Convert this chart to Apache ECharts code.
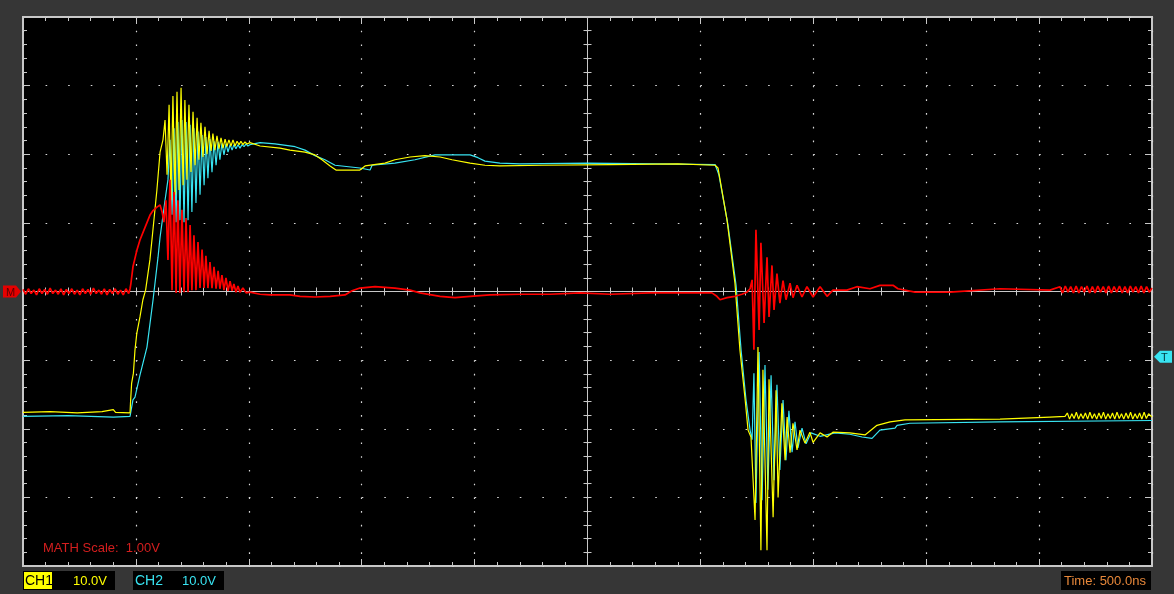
<!DOCTYPE html>
<html lang="en">
<head>
<meta charset="UTF-8">
<title>Scope capture</title>
<script src="https://cdn.jsdelivr.net/npm/echarts@6.0.0/dist/echarts.min.js"></script>
<style>
  html, body { margin: 0; padding: 0; background: #363636; }
  #main { width: 1174px; height: 594px; }
</style>
</head>
<body>
<div id="main"></div>
<script>
// time in ns relative to the trigger point (screen centre), CH values in volts, MATH in volts
var ch1 = [
  [-2500,-17.6],[-2380,-17.5],[-2260,-17.7],[-2150,-17.5],[-2100,-17.2],[-2090,-17.6],[-2026,-17.7],
  [-2024,-16.3],[-2019,-13.4],[-2011,-11.9],[-2004,-8.5],[-1996,-6.1],[-1982,-3.7],[-1969,-1.2],
  [-1957,0.2],[-1938,4.6],[-1929,7.5],[-1907,14.8],[-1893,20.3],[-1880,22.1],
  [-1871,25.0],[-1862,17.0],[-1853,27.2],[-1845,13.3],[-1836,28.5],[-1827,14.1],[-1818,29.1],
  [-1809,14.8],[-1800,29.7],[-1791,15.5],[-1783,27.9],[-1774,16.3],[-1765,27.2],[-1756,17.4],
  [-1747,26.2],[-1738,18.4],[-1729,25.3],[-1721,19.2],[-1712,24.6],[-1703,19.6],[-1694,24.0],
  [-1685,20.0],[-1676,23.4],[-1667,20.5],[-1659,23.0],[-1650,20.6],[-1641,22.7],[-1632,20.8],
  [-1623,22.4],[-1614,20.9],[-1605,22.2],[-1597,21.1],[-1588,22.1],[-1579,21.2],[-1570,22.1],
  [-1561,21.2],[-1552,21.9],[-1543,21.4],[-1535,21.9],[-1526,21.4],[-1517,21.8],[-1508,21.5],
  [-1495,21.7],[-1450,21.2],[-1362,20.9],[-1318,20.6],[-1251,20.3],[-1207,19.9],[-1176,19.2],
  [-1140,18.3],[-1114,17.7],[-1008,17.7],[-985,18.3],[-897,18.7],[-853,19.2],[-786,19.6],
  [-720,19.8],[-653,19.6],[-600,19.2],[-520,18.7],[-454,18.4],[-388,18.3],[-200,18.4],
  [100,18.5],[400,18.6],[565,18.4],
  [578,18.0],[618,10.4],[653,1.2],[675,-8.5],[698,-15.7],[711,-20.2],[724,-21.2],
  [742,-33.3],[755,-8.1],[768,-37.7],[777,-11.4],[795,-37.7],[804,-12.8],[822,-32.9],
  [835,-14.4],[844,-30.0],[861,-16.3],[875,-24.6],[884,-18.3],[897,-23.5],[910,-19.2],
  [928,-23.1],[941,-20.2],[963,-22.1],[985,-20.5],[999,-22.0],[1030,-20.6],[1061,-21.2],
  [1087,-20.5],[1162,-20.6],[1229,-20.9],[1282,-19.5],[1340,-19.0],[1406,-18.7],[1827,-18.6],
  [2048,-18.3],[2115,-18.2],
  [2125,-17.7],[2135,-18.6],[2145,-17.8],[2155,-18.5],[2165,-17.6],[2175,-18.6],[2185,-17.8],
  [2195,-18.5],[2205,-17.7],[2215,-18.6],[2225,-17.6],[2235,-18.5],[2245,-17.8],[2255,-18.6],
  [2265,-17.7],[2275,-18.5],[2285,-17.6],[2295,-18.6],[2305,-17.8],[2315,-18.5],[2325,-17.7],
  [2335,-18.6],[2345,-17.6],[2355,-18.5],[2365,-17.8],[2375,-18.6],[2385,-17.7],[2395,-18.5],
  [2405,-17.6],[2415,-18.6],[2425,-17.8],[2435,-18.5],[2445,-17.7],[2455,-18.6],[2465,-17.6],
  [2475,-18.5],[2485,-17.8],[2500,-18.3]
];

var ch2 = [
  [-2500,-18.2],[-2300,-18.1],[-2100,-18.3],[-2026,-18.2],
  [-2013,-15.8],[-2004,-15.4],[-1982,-12.2],[-1951,-8.1],[-1924,-1.2],[-1902,5.0],[-1893,7.9],
  [-1871,13.3],[-1858,16.3],
  [-1849,22.1],[-1840,11.2],[-1831,23.8],[-1822,10.1],[-1814,24.7],[-1805,10.4],[-1796,25.0],
  [-1787,10.1],[-1778,24.7],[-1769,10.4],[-1760,24.3],[-1752,11.6],[-1743,23.8],[-1734,12.9],
  [-1725,23.3],[-1716,14.1],[-1707,22.8],[-1698,15.5],[-1690,22.5],[-1681,16.5],[-1672,22.2],
  [-1663,17.4],[-1654,21.9],[-1645,18.4],[-1636,21.8],[-1628,19.2],[-1619,21.6],[-1610,19.9],
  [-1601,21.5],[-1592,20.3],[-1583,21.4],[-1574,20.6],[-1566,21.4],[-1557,20.8],[-1548,21.4],
  [-1539,20.9],[-1530,21.4],[-1521,21.1],[-1512,21.5],[-1504,21.2],
  [-1495,21.4],[-1450,21.7],[-1384,21.5],[-1295,21.1],[-1251,20.6],[-1207,19.8],[-1163,19.2],
  [-1118,18.4],[-1008,18.0],[-963,17.7],[-954,18.4],[-853,18.7],[-764,19.2],[-675,19.9],
  [-520,19.9],[-485,19.5],[-454,19.0],[-388,18.7],[-299,18.6],[0,18.7],[300,18.6],[565,18.5],
  [582,17.0],[622,9.7],[658,0.9],[680,-8.5],[702,-15.8],[720,-20.2],[729,-21.6],
  [737,-11.9],[746,-30.8],[760,-8.8],[773,-30.4],[786,-10.7],[799,-28.9],[813,-12.2],
  [826,-27.5],[839,-13.6],[852,-26.0],[866,-15.8],[879,-24.6],[892,-17.4],[906,-23.4],
  [919,-19.0],[932,-22.8],[950,-19.9],[968,-22.2],[990,-20.6],[1030,-21.1],[1096,-20.6],
  [1162,-20.8],[1216,-21.2],[1260,-21.4],[1295,-20.2],[1362,-19.9],[1371,-19.5],[1428,-19.2],
  [1827,-19.0],[2500,-18.8]
];

var math = [
  [-2500,0.03],[-2488,-0.04],[-2476,0.04],[-2464,-0.03],[-2452,0.02],[-2440,-0.05],[-2428,0.04],
  [-2416,-0.03],[-2404,0.03],[-2392,-0.04],[-2380,0.05],[-2368,-0.03],[-2356,0.02],[-2344,-0.04],
  [-2332,0.04],[-2320,-0.05],[-2308,0.03],[-2296,-0.03],[-2284,0.04],[-2272,-0.04],[-2260,0.02],
  [-2248,-0.05],[-2236,0.04],[-2224,-0.03],[-2212,0.03],[-2200,-0.04],[-2188,0.05],[-2176,-0.03],
  [-2164,0.02],[-2152,-0.04],[-2140,0.04],[-2128,-0.05],[-2116,0.03],[-2104,-0.03],[-2092,0.04],
  [-2080,-0.04],[-2068,0.02],[-2056,-0.05],[-2044,0.04],[-2032,-0.03],
  [-2026,0.04],[-2022,0.12],[-2013,0.36],[-1995,0.61],[-1982,0.75],[-1960,0.93],[-1938,1.11],
  [-1924,1.18],[-1907,1.23],[-1893,1.26],[-1884,1.16],[-1876,1.01],
  [-1867,1.33],[-1858,0.46],[-1849,1.63],[-1840,0.02],[-1831,1.45],[-1822,-0.02],[-1814,1.33],
  [-1805,-0.02],[-1796,1.19],[-1787,-0.01],[-1778,1.07],[-1769,-0.01],[-1760,0.97],[-1752,0.02],
  [-1743,0.82],[-1734,0.02],[-1725,0.72],[-1716,0.05],[-1707,0.61],[-1698,0.05],[-1690,0.52],
  [-1681,0.05],[-1672,0.43],[-1663,0.05],[-1654,0.36],[-1645,0.04],[-1636,0.30],[-1628,0.04],
  [-1619,0.24],[-1610,0.02],[-1601,0.20],[-1592,0.01],[-1583,0.15],[-1574,0.01],[-1566,0.11],
  [-1557,-0.01],[-1548,0.08],[-1539,-0.01],[-1526,0.05],[-1512,-0.02],
  [-1495,-0.01],[-1450,-0.04],[-1406,-0.05],[-1318,-0.05],[-1273,-0.07],[-1207,-0.08],
  [-1140,-0.07],[-1074,-0.05],[-1043,0.01],[-1008,0.05],[-941,0.07],[-853,0.05],[-786,0.02],
  [-742,-0.02],[-653,-0.07],[-587,-0.09],[-520,-0.07],[-432,-0.05],[-299,-0.04],[-166,-0.04],
  [-33,-0.02],[100,-0.04],[277,-0.02],[454,-0.02],[551,-0.02],
  [573,-0.07],[587,-0.12],[618,-0.09],[653,-0.07],[684,-0.04],[706,-0.01],[720,0.04],
  [729,0.17],[737,-0.85],[746,0.90],[760,-0.56],[768,0.71],[782,-0.46],[795,0.50],[804,-0.37],
  [817,0.38],[826,-0.27],[839,0.26],[852,-0.17],[866,0.16],[879,-0.12],[897,0.12],[910,-0.09],
  [928,0.09],[950,-0.08],[972,0.07],[999,-0.08],[1030,0.07],[1061,-0.07],[1087,0.02],
  [1149,0.02],[1193,0.07],[1251,0.04],[1295,0.09],[1353,0.09],[1375,0.04],[1450,-0.01],
  [1605,-0.01],[1827,0.04],[2048,0.02],
  [2092,0.07],[2104,-0.02],[2116,0.08],[2128,-0.01],[2140,0.07],[2152,-0.02],[2164,0.08],
  [2176,-0.02],[2188,0.07],[2200,-0.01],[2212,0.08],[2224,-0.02],[2236,0.07],[2248,-0.02],
  [2260,0.08],[2272,-0.01],[2284,0.07],[2296,-0.02],[2308,0.08],[2320,-0.02],[2332,0.07],
  [2344,-0.01],[2356,0.08],[2368,-0.02],[2380,0.07],[2392,-0.02],[2404,0.08],[2416,-0.01],
  [2428,0.07],[2440,-0.02],[2452,0.08],[2464,-0.02],[2476,0.07],[2488,-0.01],[2500,0.05]
];

var timeRange = [-2500, 2500];   // 10 div x 500 ns
var timePerDiv = 500;
var chRange = [-40, 40];         // 8 div x 10 V
var chPerDiv = 10;
var mathRange = [-4, 4];         // 8 div x 1 V
var trigLevel = -9.5;            // CH2 trigger level, V
var chNames = ['CH1', 'CH2'];
var chScales = ['10.0V', '10.0V'];
var timeLabel = 'Time: 500.0ns';
var mathLabel = 'MATH Scale:  1.00V';

var YELLOW = '#ffff00', CYAN = '#38e4f2', RED = '#ff0000';
var GRAT = '#c8c8c8', DOT = '#d8d8d8';
var FONT = '"Liberation Sans", Arial, sans-serif';
var box = { left: 23, top: 17, width: 1129, height: 549 };

var chart = echarts.init(document.getElementById('main'));

function borderX(grid, pos, dots) {
  return {
    type: 'value', gridIndex: grid, position: pos,
    min: timeRange[0], max: timeRange[1], interval: timePerDiv,
    axisLine: { show: false, onZero: false },
    axisTick: { show: true, inside: true, length: 7, lineStyle: { color: GRAT, width: 1 } },
    minorTick: { show: true, splitNumber: 5, length: 4, lineStyle: { color: GRAT, width: 1 } },
    axisLabel: { show: false },
    splitLine: { show: dots, lineStyle: { color: DOT, width: 1.2, type: [1.6, box.height / 40 - 1.6] } }
  };
}
function borderY(grid, pos, dots) {
  return {
    type: 'value', gridIndex: grid, position: pos,
    min: chRange[0], max: chRange[1], interval: chPerDiv,
    axisLine: { show: false, onZero: false },
    axisTick: { show: true, inside: true, length: 7, lineStyle: { color: GRAT, width: 1 } },
    minorTick: { show: true, splitNumber: 5, length: 4, lineStyle: { color: GRAT, width: 1 } },
    axisLabel: { show: false },
    splitLine: { show: dots, lineStyle: { color: DOT, width: 1.2, type: [1.6, box.width / 50 - 1.6] } }
  };
}
function centreAxis(kind, grid, pos) {
  var isX = kind === 'x';
  return {
    type: 'value', gridIndex: grid, position: pos,
    min: isX ? timeRange[0] : chRange[0], max: isX ? timeRange[1] : chRange[1],
    interval: isX ? timePerDiv / 5 : chPerDiv / 5,
    axisLine: { show: true, onZero: true, lineStyle: { color: GRAT, width: 1 } },
    axisTick: { show: true, inside: true, length: 4, lineStyle: { color: GRAT, width: 1 } },
    axisLabel: { show: false },
    splitLine: { show: false }
  };
}

var grids = [0, 1, 2, 3].map(function (i) {
  var g = { left: box.left, top: box.top, width: box.width, height: box.height, containLabel: false, z: i === 0 ? -1 : 0 };
  if (i === 0) {
    g.show = true; g.backgroundColor = '#000'; g.borderColor = GRAT; g.borderWidth = 2;
  }
  return g;
});

function lineSeries(name, data, yIdx, color, w, z) {
  return {
    name: name, type: 'line', xAxisIndex: 0, yAxisIndex: yIdx, data: data,
    showSymbol: false, symbol: 'none', z: z, clip: true,
    lineStyle: { color: color, width: w }, emphasis: { disabled: true }
  };
}

function textEl(id, x, y, str, color, size, z) {
  return { type: 'text', id: id, x: x, y: y, z: z || 20,
    style: { text: str, fill: color, font: size + 'px ' + FONT, verticalAlign: 'middle' } };
}
function rectEl(id, x, y, w, h, fill) {
  return { type: 'rect', id: id, z: 10, shape: { x: x, y: y, width: w, height: h }, style: { fill: fill } };
}
function couplingEl(id, x, y, color) {
  return { type: 'group', id: id, z: 20, children: [
    { type: 'line', shape: { x1: x, y1: y, x2: x + 10, y2: y }, style: { stroke: color, lineWidth: 1 } },
    { type: 'line', shape: { x1: x, y1: y + 3, x2: x + 10, y2: y + 3 }, style: { stroke: color, lineWidth: 1, lineDash: [2, 2] } }
  ] };
}

var labelEls = [
  rectEl('b1', 23, 571, 92, 19, '#000'),
  rectEl('b1c', 24, 572, 28, 17, YELLOW),
  textEl('t1', 25, 581, chNames[0], '#000', 14),
  couplingEl('c1', 53, 577, YELLOW),
  textEl('v1', 73, 581, chScales[0], YELLOW, 13),
  rectEl('b2', 133, 571, 91, 19, '#000'),
  textEl('t2', 135, 581, chNames[1], CYAN, 14),
  couplingEl('c2', 162, 577, CYAN),
  textEl('v2', 182, 581, chScales[1], CYAN, 13),
  rectEl('bt', 1061, 571, 90, 19, '#000'),
  textEl('tt', 1064, 581, timeLabel, '#e8883a', 13),
  textEl('tm', 43, 548, mathLabel, '#d41e1e', 13)
];

chart.setOption({
  animation: false,
  backgroundColor: '#363636',
  grid: grids,
  xAxis: [
    borderX(0, 'bottom', true),
    borderX(1, 'top', false),
    centreAxis('x', 2, 'bottom'),
    centreAxis('x', 3, 'top')
  ],
  yAxis: [
    borderY(0, 'left', true),
    { type: 'value', gridIndex: 0, position: 'right', min: mathRange[0], max: mathRange[1], show: false },
    borderY(1, 'right', false),
    centreAxis('y', 2, 'left'),
    centreAxis('y', 3, 'right')
  ],
  series: [
    lineSeries('CH2', ch2, 0, CYAN, 1.2, 3),
    lineSeries('CH1', ch1, 0, YELLOW, 1.2, 4),
    lineSeries('MATH', math, 1, RED, 1.7, 5)
  ],
  graphic: { elements: labelEls }
});

// channel markers on the screen edges, placed through the axis scales
var mY = chart.convertToPixel({ yAxisIndex: 1 }, 0);
var tY = chart.convertToPixel({ yAxisIndex: 0 }, trigLevel);
chart.setOption({
  graphic: { elements: [
    { type: 'polygon', id: 'mMark', z: 30, shape: { points: [[3, mY - 6], [16, mY - 6], [21, mY], [16, mY + 6], [3, mY + 6]] },
      style: { fill: '#e60000' } },
    textEl('mTxt', 6, mY + 1, 'M', '#5a0000', 11, 40),
    { type: 'polygon', id: 'tMark', z: 30, shape: { points: [[1154, tY], [1160, tY - 6], [1172, tY - 6], [1172, tY + 6], [1160, tY + 6]] },
      style: { fill: CYAN } },
    textEl('tTxt', 1161, tY + 1, 'T', '#003a40', 11, 40)
  ] }
});
</script>
</body>
</html>
